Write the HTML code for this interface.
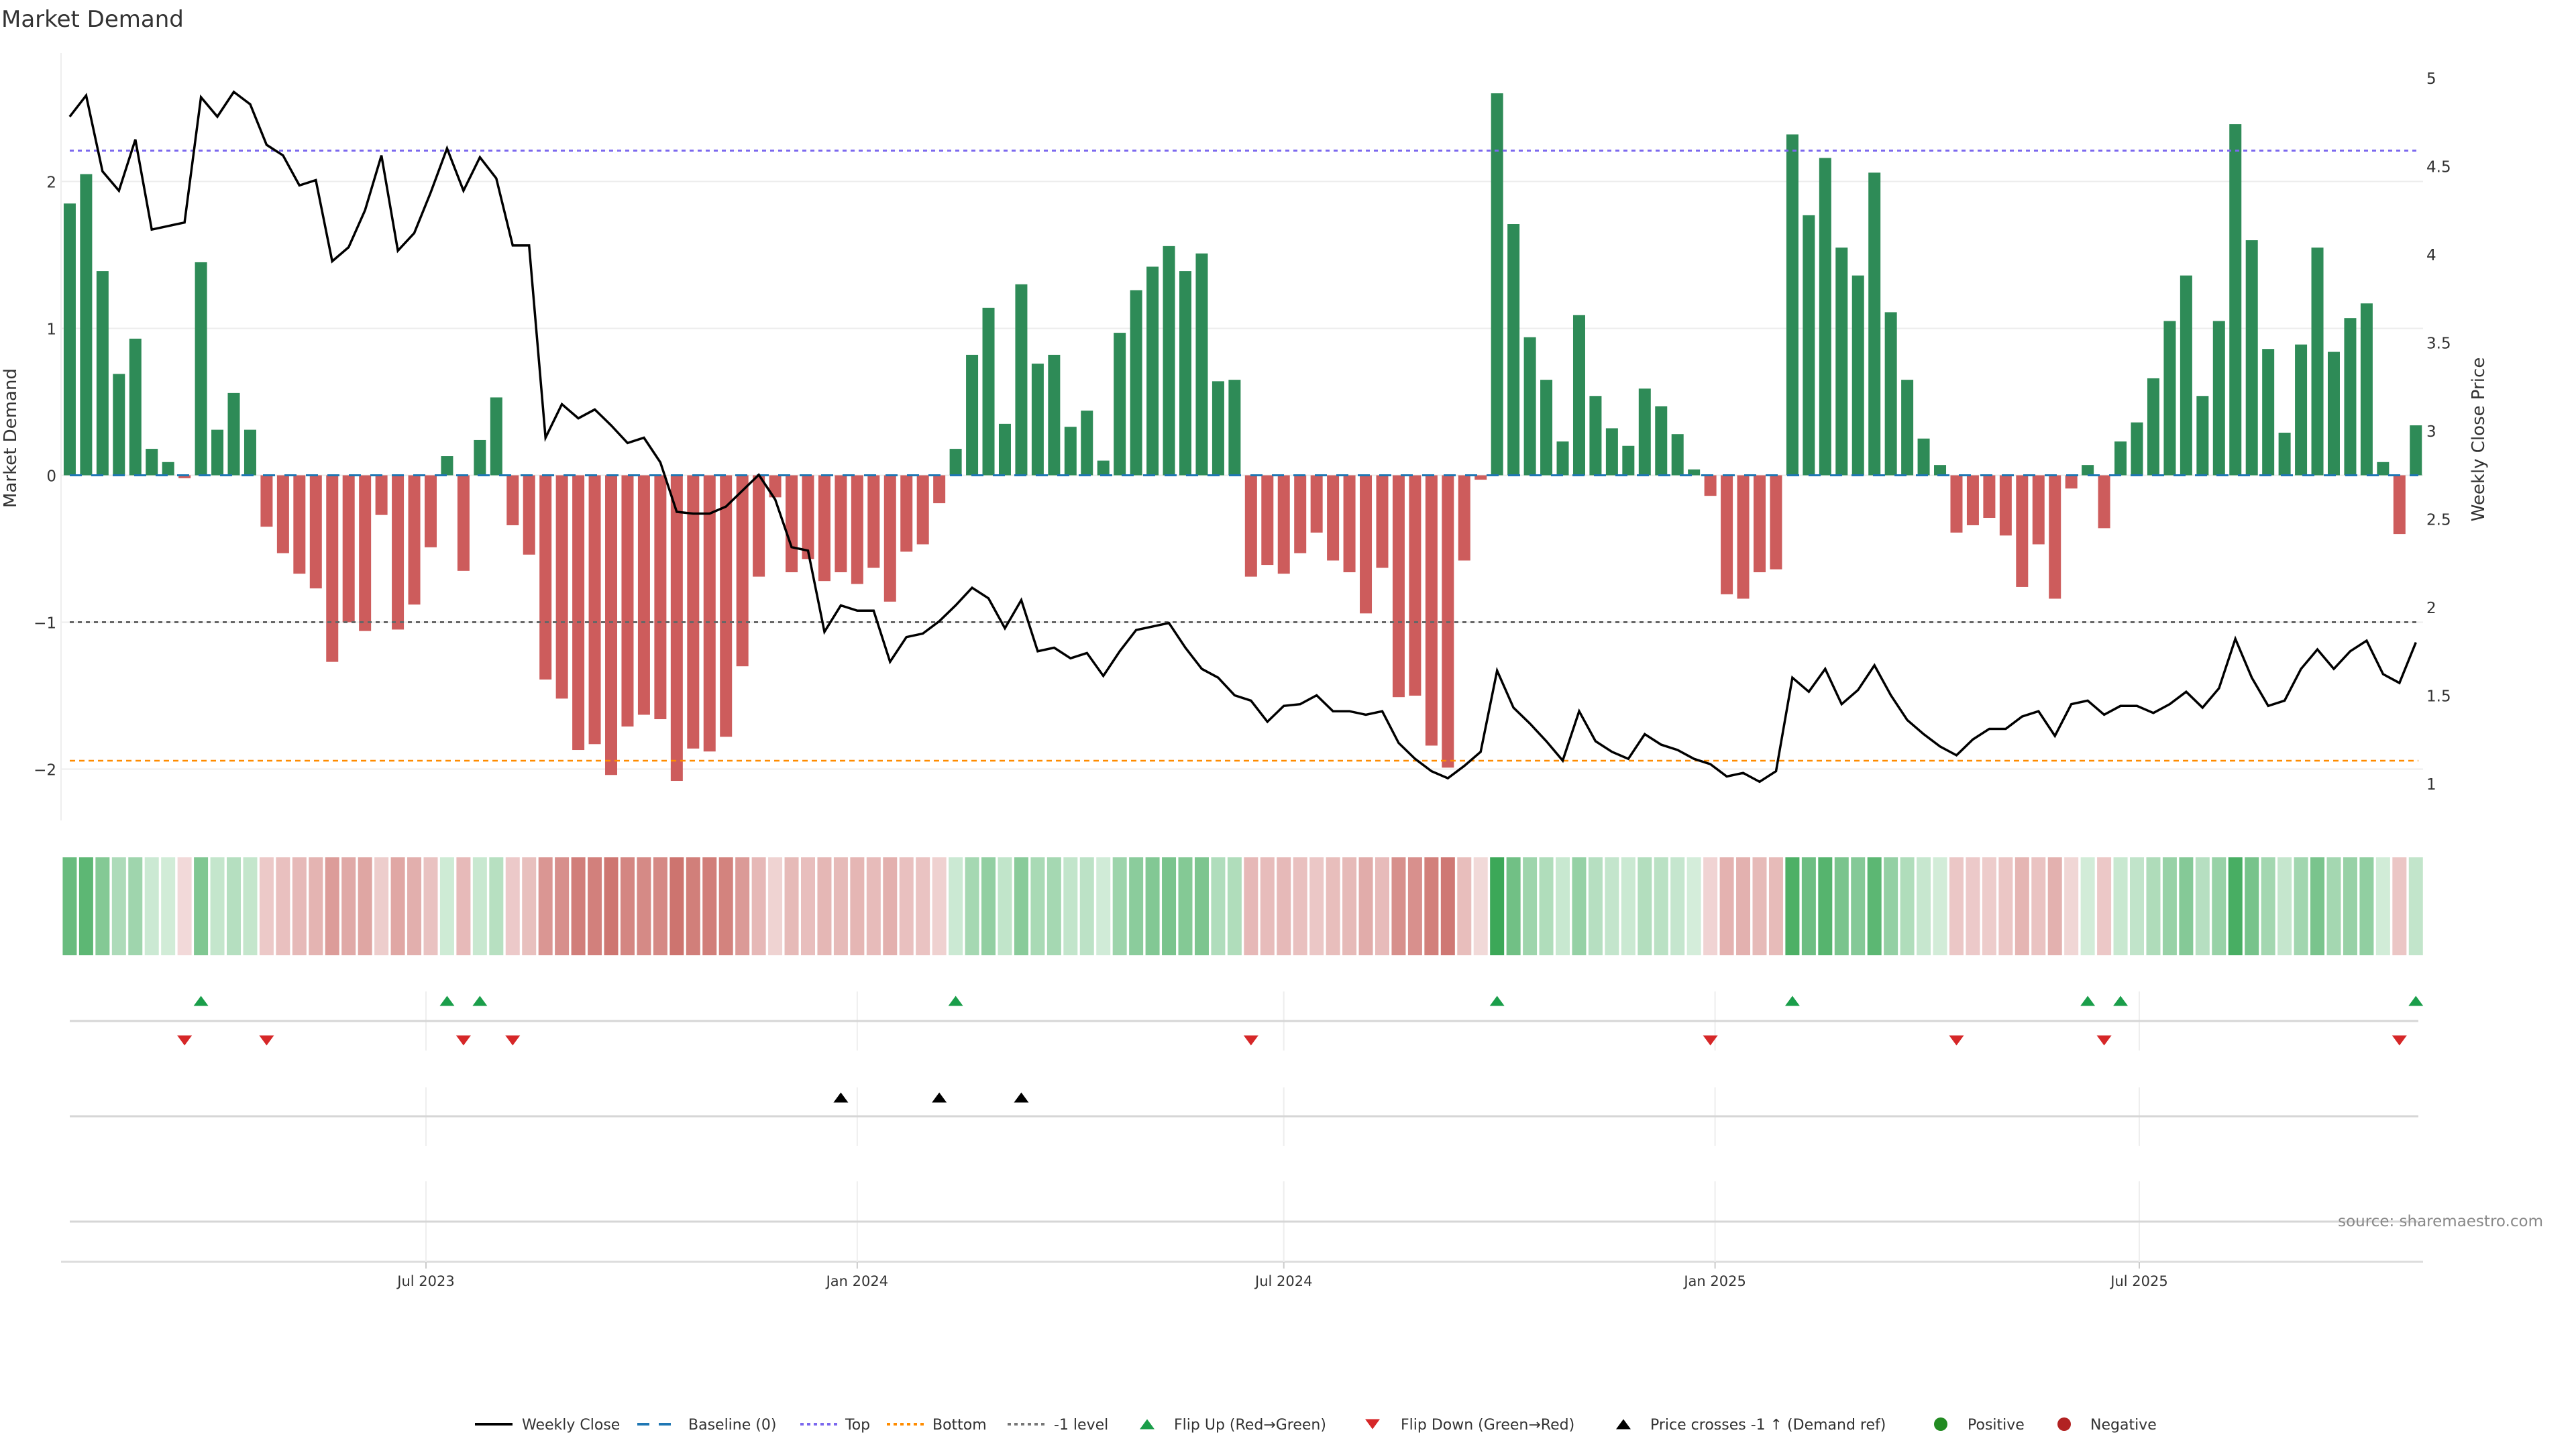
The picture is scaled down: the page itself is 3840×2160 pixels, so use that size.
<!DOCTYPE html>
<html><head><meta charset="utf-8"><style>
html,body{margin:0;padding:0;background:#fff;}
svg{display:block;font-family:"DejaVu Sans","Liberation Sans",sans-serif;}
</style></head><body>
<svg id="chart" width="3840" height="2160" viewBox="0 0 3840 2160" xmlns="http://www.w3.org/2000/svg">
<text x="2" y="40" font-size="34" fill="#333">Market Demand</text>
<g id="grid"></g>
<g id="bars"></g>
<g id="refs"></g>
<g id="price"></g>
<g id="axes"></g>
<g id="heat"></g>
<g id="markers"></g>
<text x="3791" y="1828" font-size="23" fill="#888" text-anchor="end">source: sharemaestro.com</text>
<g id="legend"></g>
</svg>
<script>
const startDate = "2023-01-30";
const demand = [1.85,2.05,1.39,0.69,0.93,0.18,0.09,-0.02,1.45,0.31,0.56,0.31,-0.35,-0.53,-0.67,-0.77,-1.27,-1.00,-1.06,-0.27,-1.05,-0.88,-0.49,0.13,-0.65,0.24,0.53,-0.34,-0.54,-1.39,-1.52,-1.87,-1.83,-2.04,-1.71,-1.63,-1.66,
-2.08,-1.86,-1.88,-1.78,-1.30,-0.69,-0.15,-0.66,-0.57,-0.72,-0.66,-0.74,-0.63,-0.86,-0.52,-0.47,-0.19,0.18,0.82,1.14,0.35,1.30,0.76,0.82,0.33,0.44,0.10,0.97,1.26,1.42,1.56,1.39,1.51,0.64,0.65,-0.69,
-0.61,-0.67,-0.53,-0.39,-0.58,-0.66,-0.94,-0.63,-1.51,-1.50,-1.84,-1.99,-0.58,-0.03,2.60,1.71,0.94,0.65,0.23,1.09,0.54,0.32,0.20,0.59,0.47,0.28,0.04,-0.14,-0.81,-0.84,-0.66,-0.64,2.32,1.77,2.16,1.55,
1.36,2.06,1.11,0.65,0.25,0.07,-0.39,-0.34,-0.29,-0.41,-0.76,-0.47,-0.84,-0.09,0.07,-0.36,0.23,0.36,0.66,1.05,1.36,0.54,1.05,2.39,1.60,0.86,0.29,0.89,1.55,0.84,1.07,1.17,0.09,-0.40,0.34];
const price = [4.78,4.90,4.47,4.36,4.65,4.14,4.16,4.18,4.89,4.78,4.92,4.85,4.62,4.56,4.39,4.42,3.96,4.04,4.25,4.56,4.02,4.12,4.35,4.60,4.36,4.55,4.43,4.05,4.05,2.96,3.15,3.07,3.12,3.03,2.93,2.96,2.82,
2.54,2.53,2.53,2.57,2.66,2.75,2.61,2.34,2.32,1.86,2.01,1.98,1.98,1.69,1.83,1.85,1.92,2.01,2.11,2.05,1.88,2.04,1.75,1.77,1.71,1.74,1.61,1.75,1.87,1.89,1.91,1.77,1.65,1.60,1.50,1.47,
1.35,1.44,1.45,1.50,1.41,1.41,1.39,1.41,1.23,1.14,1.07,1.03,1.10,1.18,1.64,1.43,1.34,1.24,1.13,1.41,1.24,1.18,1.14,1.28,1.22,1.19,1.14,1.11,1.04,1.06,1.01,1.07,1.60,1.52,1.65,1.45,
1.53,1.67,1.50,1.36,1.28,1.21,1.16,1.25,1.31,1.31,1.38,1.41,1.27,1.45,1.47,1.39,1.44,1.44,1.40,1.45,1.52,1.43,1.54,1.82,1.60,1.44,1.47,1.65,1.76,1.65,1.75,1.81,1.62,1.57,1.80];
const priceCrossIdx = [47,53,58];
const topLevel = 2.21;
const bottomLevel = -1.943;
const minusOneLevel = -1;
const demandTicks = [2,1,0,-1,-2];
const demandTickLabels = ["2","1","0","\u22121","\u22122"];
const priceTicks = [5,4.5,4,3.5,3,2.5,2,1.5,1];
const priceTickLabels = ["5","4.5","4","3.5","3","2.5","2","1.5","1"];
const dateTicks = ["2023-07-01","2024-01-01","2024-07-01","2025-01-01","2025-07-01"];
const dateTickLabels = ["Jul 2023","Jan 2024","Jul 2024","Jan 2025","Jul 2025"];

const NS="http://www.w3.org/2000/svg";
function mk(parent,tag,attrs,text){const e=document.createElementNS(NS,tag);for(const k in attrs)e.setAttribute(k,attrs[k]);if(text!==undefined)e.textContent=text;parent.appendChild(e);return e;}
const DAY=86400000;
const d0=Date.parse("2023-07-01"), d1=Date.parse("2025-07-01");
function xDate(ms){return 635+(ms-d0)/(d1-d0)*(3189-635);}
function xIdx(i){return xDate(Date.parse(startDate)+i*7*DAY);}
function yD(v){return 708.5-v*219;}
function yP(p){return 116+(5-p)*263;}
const PL=91, PR=3612;

const grid=document.getElementById('grid');
demandTicks.forEach((t,k)=>{
  const l=mk(grid,'line',{x1:PL,x2:PR,y1:yD(t),y2:yD(t),stroke:'#ececec','stroke-width':2});
  
  
});
const bars=document.getElementById('bars');
demand.forEach((v,i)=>{
  const x=xIdx(i), y=Math.min(yD(v),yD(0)), h=Math.abs(yD(v)-yD(0));
  const r=mk(bars,'rect',{x:x-9,y:y,width:18,height:Math.max(h,1),fill:v>=0?'#2e8b57':'#cd5c5c'});
  
  
});
const refs=document.getElementById('refs');
const rl=[[0,'#1f77b4','18 14',3,'baseline-zero'],[topLevel,'#7b68ee','6 6',3,'top-line'],[bottomLevel,'#ff8c00','8 6',2.5,'bottom-line'],[minusOneLevel,'#666','6 6',3,'minus-one-line']];
rl.forEach(r=>{
  const l=mk(refs,'line',{x1:104,x2:3605,y1:yD(r[0]),y2:yD(r[0]),stroke:r[1],'stroke-dasharray':r[2],'stroke-width':r[3]});
  
  
});
const pg=document.getElementById('price');
const pts=price.map((p,i)=>xIdx(i).toFixed(1)+','+yP(p).toFixed(1)).join(' ');
const pl=mk(pg,'polyline',{points:pts,fill:'none',stroke:'#000','stroke-width':3.5,'stroke-linejoin':'miter'});


const ax=document.getElementById('axes');
let a=mk(ax,'line',{x1:PL,x2:PL,y1:79,y2:1223,stroke:'#eee','stroke-width':2});


demandTicks.forEach((t,k)=>{
  const e=mk(ax,'text',{x:84,y:yD(t)+9,'font-size':23,fill:'#333','text-anchor':'end'},demandTickLabels[k]);
  
  
});
priceTicks.forEach((t,k)=>{
  const e=mk(ax,'text',{x:3617,y:yP(t)+9,'font-size':23,fill:'#333'},priceTickLabels[k]);
  
  
});
a=mk(ax,'text',{x:0,y:0,'font-size':26,fill:'#333','text-anchor':'middle',transform:'translate(24,653) rotate(-90)'},'Market Demand');


a=mk(ax,'text',{x:0,y:0,'font-size':26,fill:'#333','text-anchor':'middle',transform:'translate(3703,655) rotate(-90)'},'Weekly Close Price');


a=mk(ax,'line',{x1:PL,x2:PR,y1:1881,y2:1881,stroke:'#ddd','stroke-width':3});


dateTicks.forEach((d,k)=>{
  const x=xDate(Date.parse(d));
  [[1478,1566],[1621,1708],[1761,1881]].forEach(s=>{
    const g=mk(ax,'line',{x1:x,x2:x,y1:s[0],y2:s[1],stroke:'#eee','stroke-width':2});
    
    
  });
  const t=mk(ax,'line',{x1:x,x2:x,y1:1881,y2:1891,stroke:'#ccc','stroke-width':2});
  
  
  const e=mk(ax,'text',{x:x,y:1917,'font-size':21,fill:'#333','text-anchor':'middle'},dateTickLabels[k]);
  
  
});
[1522,1664,1821].forEach(y=>{
  const l=mk(ax,'line',{x1:104,x2:3605,y1:y,y2:y,stroke:'#d6d6d6','stroke-width':3});
  
  
});
const heat=document.getElementById('heat');
function lerp(a,b,t){return Math.round(a+(b-a)*t);}
demand.forEach((v,i)=>{
  let c;
  if(v>=0){const t=Math.min(v/2.6,1);c=`rgb(${lerp(214,60,t)},${lerp(238,168,t)},${lerp(220,88,t)})`;}
  else{const t=Math.min(-v/2.1,1);c=`rgb(${lerp(242,205,t)},${lerp(218,115,t)},${lerp(218,110,t)})`;}
  const r=mk(heat,'rect',{x:xIdx(i)-10.5,y:1278,width:21,height:146,fill:c});
  
  
});
const mg=document.getElementById('markers');
function tri(x,y,up,color,name){
  const h=15,w=11;
  const p=up?`${x-w},${y+h/2} ${x+w},${y+h/2} ${x},${y-h/2}`:`${x-w},${y-h/2} ${x+w},${y-h/2} ${x},${y+h/2}`;
  const e=mk(mg,'polygon',{points:p,fill:color});
  
  
}
for(let i=1;i<demand.length;i++){
  if(demand[i-1]<0&&demand[i]>=0)tri(xIdx(i),1492,true,'#1a9e4a','flip-up-marker');
  if(demand[i-1]>=0&&demand[i]<0)tri(xIdx(i),1551,false,'#d62728','flip-down-marker');
}
priceCrossIdx.forEach(i=>tri(xIdx(i),1636,true,'#000','price-cross-marker'));
const lg=document.getElementById('legend');
const LY=2123;
function lt(x,s){const e=mk(lg,'text',{x:x,y:LY+8,'font-size':22,fill:'#333'},s);}
function ll(x,color,dash,w,name){const e=mk(lg,'line',{x1:x,x2:x+56,y1:LY,y2:LY,stroke:color,'stroke-width':w,'stroke-dasharray':dash});}
ll(708,'#000','none',4,'legend-weekly-close'); lt(778,'Weekly Close');
ll(950,'#1f77b4','18 14',4,'legend-baseline'); lt(1026,'Baseline (0)');
ll(1193,'#7b68ee','5 5',4,'legend-top'); lt(1260,'Top');
ll(1322,'#ff8c00','5 5',4,'legend-bottom'); lt(1390,'Bottom');
ll(1502,'#777','5 5',4,'legend-minus-one'); lt(1571,'-1 level');
tri(1710,LY,true,'#1a9e4a','legend-flip-up'); lt(1750,'Flip Up (Red\u2192Green)');
tri(2046,LY,false,'#d62728','legend-flip-down'); lt(2088,'Flip Down (Green\u2192Red)');
tri(2420,LY,true,'#000','legend-price-cross'); lt(2460,'Price crosses -1 \u2191 (Demand ref)');
let c=mk(lg,'circle',{cx:2893,cy:LY,r:10,fill:'#228b22'});
lt(2933,'Positive');
c=mk(lg,'circle',{cx:3077,cy:LY,r:10,fill:'#b22222'});
lt(3116,'Negative');
</script>
</body></html>
